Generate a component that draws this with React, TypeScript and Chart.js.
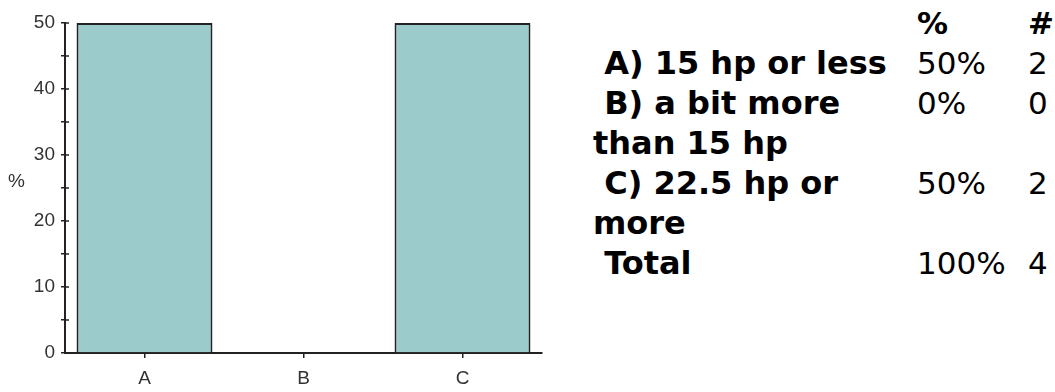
import React, { useEffect, useRef } from "react";
import { Chart, registerables } from "chart.js";

Chart.register(...registerables);

const categories = ["A", "B", "C"];
const percents = [50, 0, 50];
const counts = [2, 0, 2];
const optionLabels = ["A) 15 hp or less", "B) a bit more than 15 hp", "C) 22.5 hp or more"];
const yTicksMajor = [0, 10, 20, 30, 40, 50];

const innerTicks = {
  id: "innerTicks",
  afterDraw(chart: any) {
    const ctx = chart.ctx;
    const y = chart.scales.y;
    ctx.save();
    ctx.strokeStyle = "#222";
    ctx.lineWidth = 1.5;
    y.ticks.forEach((t: any) => {
      const py = Math.round(y.getPixelForValue(t.value));
      ctx.beginPath();
      ctx.moveTo(chart.chartArea.left, py);
      ctx.lineTo(chart.chartArea.left + 4, py);
      ctx.stroke();
    });
    ctx.restore();
  },
};

export default function App() {
  const ref = useRef<HTMLCanvasElement>(null);
  useEffect(() => {
    if (!ref.current) return;
    const chart = new Chart(ref.current, {
      type: "bar",
      data: {
        labels: categories,
        datasets: [
          {
            data: percents,
            backgroundColor: "#9ccbcc",
            borderColor: "#222",
            borderWidth: 2,
            barPercentage: 0.855,
            categoryPercentage: 1,
          },
        ],
      },
      options: {
        animation: false,
        responsive: false,
        maintainAspectRatio: false,
        layout: { padding: { left: 0, top: 23, right: 18, bottom: 0 } },
        plugins: { legend: { display: false }, tooltip: { enabled: false } },
        scales: {
          x: {
            offset: true,
            grid: { offset: false, drawOnChartArea: false, drawTicks: true, tickLength: 5, color: "#222", lineWidth: 1.5 },
            border: { display: true, color: "#222", width: 2 },
            ticks: { font: { family: "Liberation Sans", size: 19 }, color: "#333", padding: 9 },
            afterFit: (s: any) => {
              s.height = 39;
            },
          },
          y: {
            min: 0,
            max: 50,
            grid: { drawOnChartArea: false, drawTicks: true, tickLength: 4, color: "#222", lineWidth: 1.5 },
            border: { display: true, color: "#222", width: 2 },
            ticks: {
              stepSize: 5,
              autoSkip: false,
              callback: (v: any) => (yTicksMajor.includes(Number(v)) ? String(v) : ""),
              font: { family: "Liberation Sans", size: 19 },
              color: "#333",
              padding: 6,
            },
            afterFit: (s: any) => {
              s.width = 65;
            },
          },
        },
      },
      plugins: [innerTicks],
    });
    return () => chart.destroy();
  }, []);

  const totalPct = percents.reduce((a, b) => a + b, 0);
  const totalCount = counts.reduce((a, b) => a + b, 0);
  const cellFont: React.CSSProperties = {
    fontFamily: "'DejaVu Sans'",
    fontSize: 31,
    lineHeight: "40px",
    padding: 0,
    verticalAlign: "top",
    textAlign: "left",
    color: "#000",
  };
  const labelFont: React.CSSProperties = { ...cellFont, fontWeight: "bold", fontSize: 32 };

  return (
    <div>
      <canvas ref={ref} width={560} height={392} style={{ position: "absolute", left: 0, top: 0, width: 560, height: 392 }} />
      <span
        style={{
          position: "absolute",
          left: 8,
          top: 170,
          fontFamily: "'Liberation Sans'",
          fontSize: 19,
          color: "#333",
        }}
      >
        %
      </span>
      <table
        style={{
          position: "absolute",
          left: 593,
          top: 3,
          borderCollapse: "collapse",
          borderSpacing: 0,
          tableLayout: "fixed",
          width: 462,
        }}
      >
        <colgroup>
          <col style={{ width: 324 }} />
          <col style={{ width: 111 }} />
          <col style={{ width: 27 }} />
        </colgroup>
        <tbody>
          <tr>
            <th style={cellFont}></th>
            <th style={{ ...cellFont, fontWeight: "bold" }}>%</th>
            <th style={{ ...cellFont, fontWeight: "bold" }}>#</th>
          </tr>
          {optionLabels.map((lab, i) => (
            <tr key={lab}>
              <td style={labelFont}>{"\u00a0" + lab}</td>
              <td style={cellFont}>{percents[i] + "%"}</td>
              <td style={cellFont}>{counts[i]}</td>
            </tr>
          ))}
          <tr>
            <td style={labelFont}>{"\u00a0Total"}</td>
            <td style={cellFont}>{totalPct + "%"}</td>
            <td style={cellFont}>{totalCount}</td>
          </tr>
        </tbody>
      </table>
    </div>
  );
}
